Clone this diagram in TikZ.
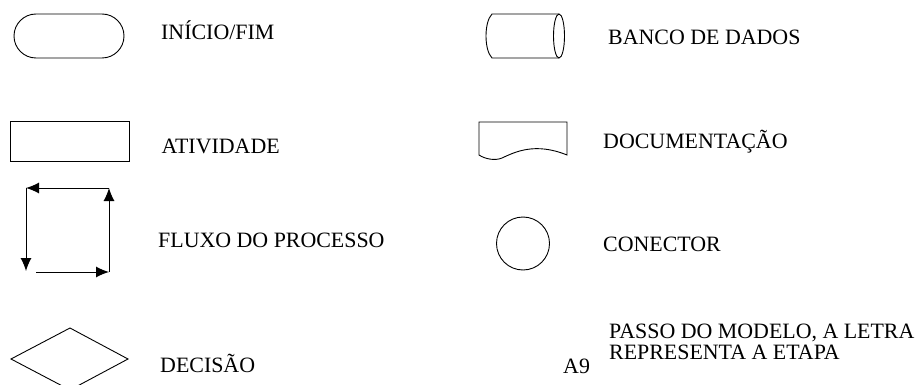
\documentclass[tikz,border=0pt]{standalone}
\usepackage{fontspec}
\setmainfont{Liberation Serif}
\usetikzlibrary{arrows.meta}
\begin{document}
\begin{tikzpicture}[x=1pt,y=-1pt,
  shp/.style={draw=black,line width=0.9pt},
  lbl/.style={anchor=base west,inner sep=0pt,font=\fontsize{21.9}{21}\selectfont},
  flow/.style={line width=1pt,-{Latex[length=13pt,width=11pt]}}]
\useasboundingbox (0,0) rectangle (920,385);
\clip (0,0) rectangle (920,385);
% terminator
\node[shp,rounded corners=22pt,minimum width=110pt,minimum height=44pt,inner sep=0pt] (term) at (69,36) {};
\node[lbl] (tterm) at (161,40) {INÍCIO/FIM};
% activity
\node[shp,minimum width=119pt,minimum height=40pt,inner sep=0pt] (act) at (69.5,141) {};
\node[lbl] (tact) at (161.5,153.5) {ATIVIDADE};
% flow
\coordinate (f1) at (109,272);
\coordinate (f2) at (109,188);
\coordinate (f3) at (26,188);
\coordinate (f4) at (26,271);
\coordinate (f5) at (36,272);
\draw[flow] (f1) -- (f2);
\draw[flow] (f2) -- (f3);
\draw[flow] (f3) -- (f4);
\draw[flow] (f5) -- (f1);
\node[lbl] (tflow) at (158,247) {FLUXO DO PROCESSO};
% decision
\draw[shp] (11,359) -- (70,328) -- (128,359) -- (70,390) -- cycle;
\node[lbl] (tdec) at (160,372.5) {DECISÃO};
% database
\draw[shp] (559,14) -- (492,14) .. controls (484,22) and (484,50) .. (492,58) -- (559,58);
\draw[shp] (559,36) ellipse [x radius=5.5, y radius=22];
\node[lbl] (tdb) at (608,45) {BANCO DE DADOS};
% document
\draw[shp] (479,155) -- (479,122) -- (567,122) -- (567,155) .. controls (535,142) and (515,152) .. (502,158) .. controls (495,161) and (485,159) .. (479,155) -- cycle;
\node[lbl] (tdoc) at (603,148.5) {DOCUMENTAÇÃO};
% connector
\node[shp,circle,minimum size=53pt,inner sep=0pt] (con) at (523,243.5) {};
\node[lbl] (tcon) at (603,251) {CONECTOR};
% step
\node[lbl] (a9) at (563,373) {A9};
\node[lbl] (tstep1) at (609,338) {PASSO DO MODELO, A LETRA};
\node[lbl] (tstep2) at (609,359) {REPRESENTA A ETAPA};
\end{tikzpicture}
\end{document}
